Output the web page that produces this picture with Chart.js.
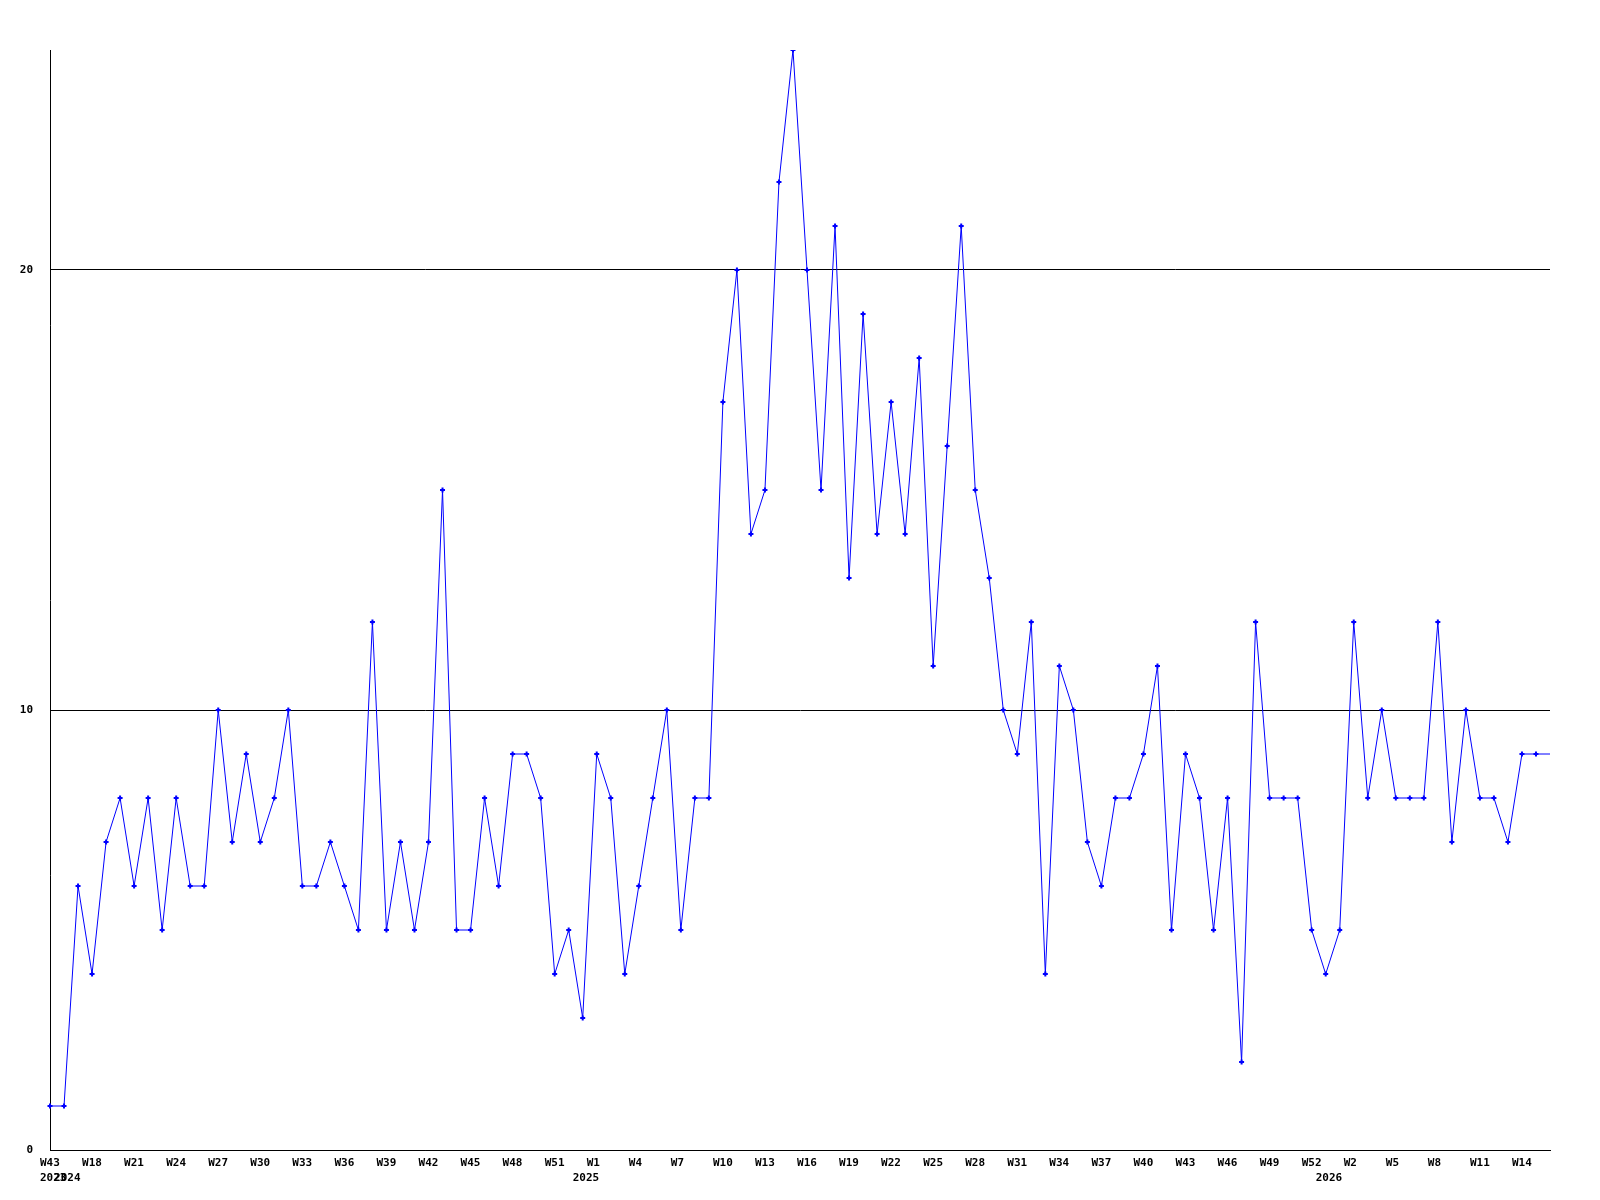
<!DOCTYPE html>
<html>
<head>
<meta charset="utf-8">
<script src="https://cdn.jsdelivr.net/npm/chart.js@4/dist/chart.umd.min.js"></script>
<style>
  html, body { margin: 0; padding: 0; background: #fff; }
  #weekly { display: block; }
</style>
</head>
<body>
<canvas id="weekly" width="1600" height="1200"></canvas>
<script>
// one category per recorded week
const weekLabels = [
    "W43",
    "W16", "W17", "W18", "W19", "W20", "W21", "W22", "W23", "W24", "W25", "W26", "W27", "W28", "W29", "W30",
    "W31", "W32", "W33", "W34", "W35", "W36", "W37", "W38", "W39", "W40", "W41", "W42", "W43", "W44", "W45",
    "W46", "W47", "W48", "W49", "W50", "W51", "W52",
    "W0", "W1", "W2", "W3", "W4", "W5", "W6", "W7", "W8", "W9", "W10", "W11", "W12", "W13", "W14", "W15",
    "W16", "W17", "W18", "W19", "W20", "W21", "W22", "W23", "W24", "W25", "W26", "W27", "W28", "W29", "W30",
    "W31", "W32", "W33", "W34", "W35", "W36", "W37", "W38", "W39", "W40", "W41", "W42", "W43", "W44", "W45",
    "W46", "W47", "W48", "W49", "W50", "W51", "W52",
    "W0", "W1", "W2", "W3", "W4", "W5", "W6", "W7", "W8", "W9", "W10", "W11", "W12", "W13", "W14", "W15", "W16"
];

// first category of each year
const yearStartIndex = [0, 1, 38, 91];
const yearLabels = ["2023", "2024", "2025", "2026"];

const counts = [
    1, 1, 6, 4, 7, 8, 6, 8, 5, 8, 6, 6, 10, 7, 9, 7, 8, 10, 6, 6, 7, 6, 5, 12, 5, 7, 5, 7, 15, 5,
    5, 8, 6, 9, 9, 8, 4, 5, 3, 9, 8, 4, 6, 8, 10, 5, 8, 8, 17, 20, 14, 15, 22, 25, 20, 15, 21, 13, 19, 14,
    17, 14, 18, 11, 16, 21, 15, 13, 10, 9, 12, 4, 11, 10, 7, 6, 8, 8, 9, 11, 5, 9, 8, 5, 8, 2, 12, 8, 8, 8,
    5, 4, 5, 12, 8, 10, 8, 8, 8, 12, 7, 10, 8, 8, 7, 9, 9, 9
];

const yTicks = [0, 10, 20];

const tickFont = { family: "'DejaVu Sans Mono', monospace", size: 11, weight: "bold", lineHeight: 15 / 11 };

new Chart(document.getElementById("weekly"), {
    type: "line",
    data: {
        labels: weekLabels,
        datasets: [{
            data: counts,
            borderColor: "#0000ff",
            backgroundColor: "#0000ff",
            borderWidth: 1,
            tension: 0,
            pointStyle: "cross",
            pointRadius: ctx => ctx.dataIndex === counts.length - 1 ? 0 : 2.5,
            pointBorderWidth: 2,
            pointBorderColor: "#0000ff"
        }]
    },
    options: {
        responsive: false,
        animation: false,
        devicePixelRatio: 1,
        layout: { padding: { top: 50, right: 50, bottom: 0, left: 0 } },
        plugins: {
            legend: { display: false },
            tooltip: { enabled: false }
        },
        scales: {
            x: {
                offset: false,
                grid: { display: false },
                border: { display: true, color: "#000", width: 1 },
                ticks: {
                    autoSkip: false,
                    maxRotation: 0,
                    align: "start",
                    labelOffset: -10,
                    padding: -2,
                    color: "#000",
                    font: tickFont,
                    callback: (val, i) => {
                        const week = i % 3 === 0 ? weekLabels[i] : "";
                        const y = yearStartIndex.indexOf(i);
                        return [week, y >= 0 ? yearLabels[y] : ""];
                    }
                },
                afterFit: scale => { scale.height = 50; }
            },
            y: {
                min: 0,
                max: 25,
                grid: { color: "#000", lineWidth: 1, drawTicks: false },
                border: { display: true, color: "#000", width: 1 },
                afterBuildTicks: scale => { scale.ticks = yTicks.map(v => ({ value: v })); },
                ticks: {
                    padding: 17,
                    color: "#000",
                    font: tickFont
                },
                afterFit: scale => { scale.width = 50; }
            }
        }
    }
});
</script>
</body>
</html>
